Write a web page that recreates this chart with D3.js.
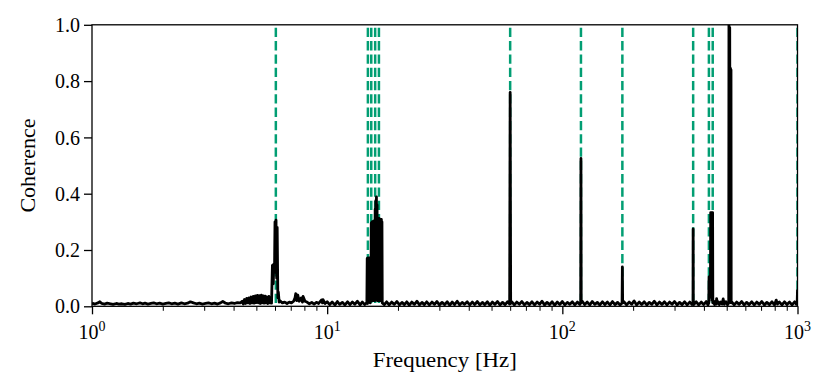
<!DOCTYPE html>
<html>
<head>
<meta charset="utf-8">
<script src="https://cdn.jsdelivr.net/npm/d3@7"></script>
<style>
  body { margin: 0; background: #fff; }
  svg { display: block; }
  text { font-family: "Liberation Serif", "Times New Roman", serif; fill: #000; }
</style>
</head>
<body>
<div id="chart"></div>
<script>
// frequency [Hz], coherence  (dense where the trace looks filled)
var spectrum = [
  [1.0,.011],[1.03,.008],[1.06,.012],[1.08,.016],[1.1,.010],[1.13,.008],[1.16,.011],[1.2,.009],
  [1.23,.007],[1.27,.010],[1.3,.008],[1.34,.009],[1.38,.007],[1.42,.010],[1.46,.008],[1.5,.011],
  [1.55,.009],[1.6,.012],[1.64,.009],[1.68,.011],[1.73,.008],[1.78,.010],[1.83,.012],[1.88,.009],
  [1.94,.011],[2.0,.008],[2.06,.010],[2.12,.012],[2.18,.009],[2.25,.011],[2.32,.008],[2.4,.012],
  [2.47,.009],[2.55,.011],[2.62,.016],[2.7,.012],[2.78,.009],[2.86,.011],[2.95,.008],[3.04,.010],
  [3.13,.012],[3.22,.009],[3.32,.011],[3.42,.008],[3.52,.012],[3.6,.017],[3.7,.011],[3.8,.009],
  [3.92,.012],[4.03,.010],[4.15,.013],[4.27,.012],
  [4.35,.018],[4.4,.008],[4.45,.024],[4.5,.010],[4.55,.028],[4.6,.012],[4.65,.030],[4.7,.010],
  [4.75,.033],[4.8,.012],[4.85,.035],[4.9,.011],[4.95,.037],[5.0,.013],[5.05,.039],[5.1,.012],
  [5.15,.038],[5.2,.010],[5.25,.040],[5.3,.012],[5.35,.037],[5.4,.011],[5.45,.036],[5.5,.012],
  [5.55,.033],[5.6,.010],[5.65,.035],[5.7,.012],[5.75,.031],[5.8,.011],
  [5.85,.145],[5.9,.080],[5.93,.150],[5.97,.120],[6.0,.300],[6.03,.150],[6.06,.306],[6.1,.100],
  [6.13,.280],[6.17,.030],[6.2,.050],[6.25,.015],
  [6.3,.020],[6.45,.012],[6.6,.015],[6.75,.010],[6.9,.015],[7.05,.012],[7.2,.018],[7.3,.030],
  [7.35,.045],[7.42,.020],[7.5,.040],[7.6,.018],[7.75,.030],[7.85,.015],[7.9,.035],[8.05,.018],
  [8.2,.015],[8.4,.009],[8.6,.014],[8.8,.008],[9.0,.014],[9.2,.010],[9.45,.022],[9.55,.012],
  [9.6,.024],[9.8,.010],
  [10.0,.016],[10.25,.006],[10.5,.015],[10.8,.005],[11.05,.017],[11.3,.007],[11.6,.014],[11.9,.005],
  [12.2,.016],[12.5,.006],[12.8,.015],[13.1,.007],[13.45,.018],[13.8,.005],[14.1,.015],[14.45,.006],
  [14.75,.014],
  [14.8,.170],[14.85,.010],[14.9,.172],[14.95,.020],[15.0,.168],[15.05,.015],[15.1,.172],[15.15,.020],
  [15.2,.170],[15.25,.012],[15.3,.172],[15.35,.020],[15.4,.295],[15.45,.030],[15.5,.300],[15.55,.020],
  [15.6,.298],[15.65,.030],[15.7,.302],[15.75,.020],[15.8,.300],[15.85,.030],[15.9,.305],[15.95,.020],
  [16.0,.345],[16.05,.030],[16.1,.375],[16.15,.030],[16.2,.389],[16.25,.030],[16.3,.360],[16.35,.020],
  [16.4,.310],[16.45,.030],[16.5,.309],[16.55,.020],[16.6,.312],[16.65,.030],[16.7,.308],[16.75,.020],
  [16.8,.310],[16.85,.030],[16.9,.306],[16.95,.020],[17.0,.309],[17.05,.020],[17.1,.300],[17.15,.012],
  [17.5,.006],[17.9,.016],[18.35,.005],[18.8,.015],[19.3,.007],[19.8,.017],[20.3,.005],[20.8,.014],
  [21.3,.006],[21.8,.016],[22.35,.004],[22.9,.015],[23.5,.007],[24.1,.018],[24.7,.005],[25.3,.014],
  [25.9,.006],[26.5,.016],[27.2,.005],[27.9,.015],[28.6,.007],[29.3,.017],[30,.005],[30.8,.014],
  [31.6,.006],[32.4,.016],[33.2,.004],[34,.015],[34.8,.006],[35.7,.018],[36.6,.005],[37.5,.014],
  [38.4,.007],[39.4,.016],[40.4,.005],[41.4,.015],[42.4,.006],[43.5,.017],[44.6,.005],[45.7,.014],
  [46.8,.006],[48,.016],[49.2,.004],[50.4,.015],[51.7,.007],[53,.017],[54.3,.005],[55.7,.014],
  [57.1,.006],[58.5,.016],[59.7,.008],
  [60.0,.760],[60.3,.010],
  [61,.016],[62.5,.005],[64,.015],[65.6,.007],[67.3,.017],[69,.005],[70.7,.014],[72.5,.006],
  [74.3,.016],[76.2,.005],[78.1,.015],[80,.007],[82,.018],[84,.005],[86.1,.014],[88.3,.006],
  [90.5,.016],[92.8,.004],[95.1,.015],[97.5,.006],[100,.017],[102.5,.005],[105,.014],[107.6,.007],
  [110.3,.016],[113,.005],[115.8,.015],[118.7,.006],[119.7,.012],
  [120,.525],[120.3,.013],
  [121.5,.018],[124.5,.006],[127.6,.015],[130.8,.005],[134,.017],[137.4,.007],[140.8,.014],[144.3,.005],
  [148,.016],[151.7,.006],[155.5,.015],[159.4,.005],[163.4,.017],[167.5,.006],[171.7,.014],[176,.005],
  [179.5,.012],
  [180,.140],[180.5,.012],
  [183,.016],[187.6,.005],[192.3,.015],[197.1,.007],[202,.019],[207,.005],[212.2,.015],[217.5,.006],
  [223,.016],[228.6,.005],[234.3,.014],[240.2,.007],[246.2,.018],[252.4,.005],[258.7,.015],[265.2,.006],
  [271.8,.016],[278.6,.005],[285.6,.015],[292.7,.007],[300,.017],[307.5,.005],[315.2,.014],[323.1,.006],
  [331.2,.016],[339.5,.005],[348,.015],[356.5,.006],[359.5,.012],
  [360,.275],[360.5,.012],
  [362,.006],[371,.016],[380,.005],[389.5,.015],[399,.006],[409,.017],[416,.005],[419.5,.012],
  [420.5,.104],[421.5,.020],[422.5,.100],[423.5,.030],[424.5,.104],[425.5,.040],[426.5,.100],[427.5,.333],
  [428.5,.050],[429.5,.330],[430.5,.040],[431.5,.333],[432.5,.030],[433.5,.325],[434.5,.020],[435.5,.333],
  [436.5,.012],
  [440,.016],[444,.006],[448,.018],[451,.008],[453,.027],[456,.010],[460,.016],[465,.006],
  [472,.015],[478,.008],[483,.026],[488,.007],[496,.016],[504,.005],[510,.012],
  [511,1.0],[513,.040],[515,.990],[517,.040],[519,.845],[520.5,.050],[521.5,.840],[522.5,.012],
  [525,.016],[538,.005],[551,.015],[565,.007],[579,.017],[593,.005],[608,.014],[623,.006],
  [639,.016],[655,.005],[671,.015],[688,.007],[705,.017],[723,.005],[741,.014],[760,.006],
  [779,.016],[798,.005],[812,.022],[822,.008],[838,.015],[859,.005],[880,.016],[902,.006],
  [925,.015],[948,.005],[972,.016],[990,.007],[997,.015],[1000,.060]
];

// frequencies marked with dashed lines
var markedFreqs = [6.05, 14.9, 15.4, 16.0, 16.6, 60, 120, 180, 360, 420, 436, 1000];

var yTicks = [0, 0.2, 0.4, 0.6, 0.8, 1.0];
var xMajor = [1, 10, 100, 1000];
var xMajorExp = ["0", "1", "2", "3"];
var xMinor = [2,3,4,5,6,7,8,9,20,30,40,50,60,70,80,90,200,300,400,500,600,700,800,900];

var W = 832, H = 391;
var plotL = 92, plotR = 797.5, plotT = 24.8, plotB = 306.3;

var svg = d3.select("#chart").append("svg")
    .attr("width", W)
    .attr("height", H);

var x = d3.scaleLog().domain([1, 1000]).range([plotL, plotR]);
var y = d3.scaleLinear().domain([0, 1]).range([plotB, plotT]);

svg.append("clipPath").attr("id", "plotclip")
  .append("rect")
    .attr("x", plotL).attr("y", plotT)
    .attr("width", plotR - plotL).attr("height", plotB - plotT);

// dashed green markers (under the data)
svg.append("g")
    .attr("clip-path", "url(#plotclip)")
  .selectAll("line")
  .data(markedFreqs)
  .enter().append("line")
    .attr("x1", d => x(d)).attr("x2", d => x(d))
    .attr("y1", plotT).attr("y2", plotB)
    .attr("stroke", "#029e73")
    .attr("stroke-width", 2.5)
    .attr("stroke-dasharray", "9.3,4")
    .attr("stroke-dashoffset", 10.3);

var line = d3.line()
    .x(d => x(d[0]))
    .y(d => y(d[1]));

svg.append("path")
    .datum(spectrum)
    .attr("clip-path", "url(#plotclip)")
    .attr("fill", "none")
    .attr("stroke", "#000")
    .attr("stroke-width", 2.8)
    .attr("stroke-linejoin", "round")
    .attr("d", line);

// y axis
var yAxis = svg.append("g")
    .attr("transform", "translate(" + plotL + ",0)")
    .call(d3.axisLeft(y).tickValues(yTicks).tickSize(8).tickPadding(4)
      .tickFormat(d3.format(".1f")));
yAxis.select(".domain").remove();
yAxis.selectAll(".tick line").attr("stroke", "#000").attr("stroke-width", 1.3);
yAxis.selectAll(".tick text")
    .attr("font-size", 20)
    .attr("font-family", "Liberation Serif, serif")
    .attr("fill", "#000")
    .attr("dy", "0.33em");

// x axis major + minor ticks
var xAxis = svg.append("g")
    .attr("transform", "translate(0," + plotB + ")")
    .call(d3.axisBottom(x).tickValues(xMajor).tickSize(8).tickFormat(""));
xAxis.select(".domain").remove();
xAxis.selectAll(".tick line").attr("stroke", "#000").attr("stroke-width", 1.3);

var xMinorAxis = svg.append("g")
    .attr("transform", "translate(0," + plotB + ")")
    .call(d3.axisBottom(x).tickValues(xMinor).tickSize(4.5).tickFormat(""));
xMinorAxis.select(".domain").remove();
xMinorAxis.selectAll(".tick line").attr("stroke", "#000").attr("stroke-width", 1);

var xLabels = svg.append("g").selectAll("text")
  .data(xMajor)
  .enter().append("text")
    .attr("x", d => x(d))
    .attr("y", 339)
    .attr("text-anchor", "middle")
    .attr("font-size", 20);
xLabels.append("tspan").text("10");
xLabels.append("tspan")
    .attr("font-size", 14)
    .attr("dy", -8)
    .text((d, i) => xMajorExp[i]);

// frame
svg.append("rect")
    .attr("x", plotL).attr("y", plotT)
    .attr("width", plotR - plotL).attr("height", plotB - plotT)
    .attr("fill", "none")
    .attr("stroke", "#000")
    .attr("stroke-width", 1.3);

// axis titles
svg.append("text")
    .attr("x", (plotL + plotR) / 2)
    .attr("y", 367)
    .attr("text-anchor", "middle")
    .attr("font-size", 20)
    .attr("textLength", 144)
    .attr("lengthAdjust", "spacingAndGlyphs")
    .text("Frequency [Hz]");

svg.append("text")
    .attr("transform", "translate(35," + ((plotT + plotB) / 2) + ") rotate(-90)")
    .attr("text-anchor", "middle")
    .attr("font-size", 20)
    .attr("textLength", 94)
    .attr("lengthAdjust", "spacingAndGlyphs")
    .text("Coherence");
</script>
</body>
</html>
